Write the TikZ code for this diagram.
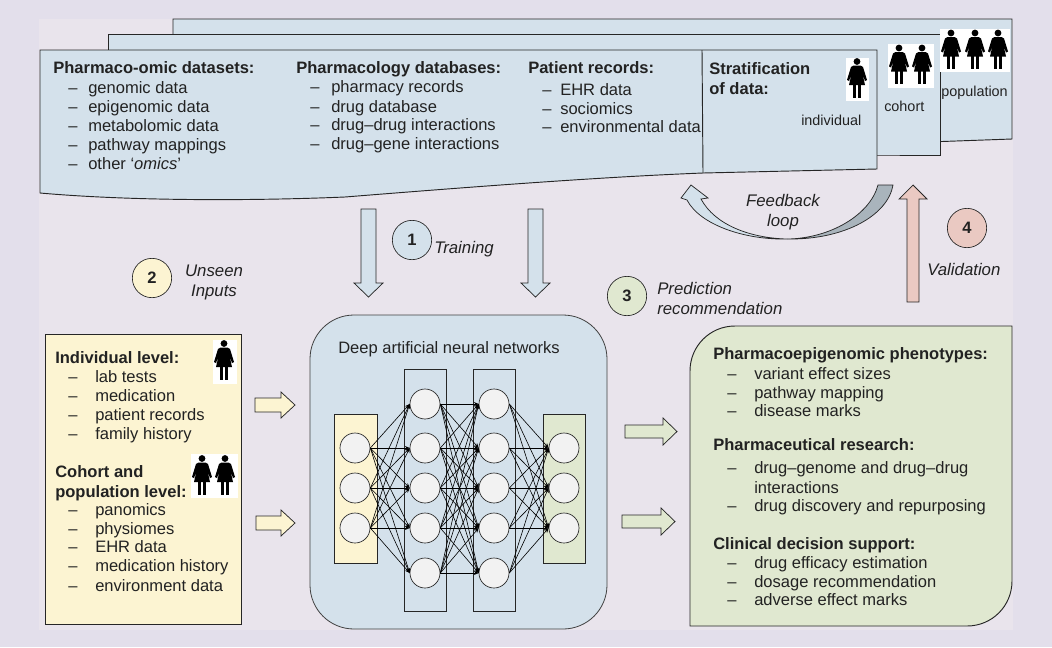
\documentclass[tikz,border=0pt]{standalone}
\usepackage{fontspec}
\setmainfont{Liberation Sans}
\usetikzlibrary{arrows.meta}
\definecolor{outerbg}{HTML}{E3DFEB}
\definecolor{innerbg}{HTML}{E9E4EC}
\definecolor{pblue}{HTML}{D4E1EB}
\definecolor{pyellow}{HTML}{FCF4D2}
\definecolor{pgreen}{HTML}{E0E8D0}
\definecolor{ppink}{HTML}{EAC9C2}
\definecolor{pgrey}{HTML}{A9B4BC}
\definecolor{pcirc}{HTML}{F2F2F2}
\definecolor{ink}{HTML}{222222}
\tikzset{
  txt/.style={anchor=base west,inner sep=0pt,text=ink,font=\fontsize{12.4}{14}\selectfont},
  hd/.style={txt,font=\fontsize{12.4}{14}\selectfont\bfseries},
  it/.style={txt,font=\fontsize{12.6}{14}\selectfont\itshape},
  itc/.style={it,anchor=base},
  small/.style={txt,font=\fontsize{10.8}{12}\selectfont},
  panel/.style={draw=black!85,line width=0.7pt},
  blockarrow/.style={draw=black!85,line width=0.55pt},
  stepnum/.style={circle,draw=black!85,line width=0.5pt,minimum size=29.5pt,inner sep=0pt,text=ink,font=\fontsize{12.4}{14}\selectfont\bfseries},
  neuron/.style={circle,draw=black!85,fill=pcirc,line width=0.5pt,minimum size=22.5pt,inner sep=0pt},
  layerbox/.style={draw=black!85,line width=0.6pt},
  synapse/.style={draw=black,line width=0.45pt,-{Stealth[length=3.6pt,width=3pt]}},
  person/.pic={
    \fill[black] (0,-16.5) circle (3.4);
    \fill[black] (-3.5,-12.5) -- (3.5,-12.5) -- (6,-11) -- (10,2) -- (8,3) -- (5.5,-4) -- (8,7) -- (-8,7) -- (-5.5,-4) -- (-8,3) -- (-10,2) -- (-6,-11) -- cycle;
    \fill[black] (-4,6) rectangle (-0.8,19.5);
    \fill[black] (0.8,6) rectangle (4,19.5);
  }
}
\newcommand{\dnarrow}[5]{% xl xr ytop yshoulder colour
  \path[blockarrow,fill=#5] (#1,#3) -- (#2,#3) -- (#2,#4) -- ({#2+7},#4) -- ({(#1+#2)/2},297) -- ({#1-7},#4) -- (#1,#4) -- cycle;}
\newcommand{\rtarrow}[7]{% x0 xs tip ytop ybot hh colour
  \path[blockarrow,fill=#7] (#1,#4) -- (#2,#4) -- (#2,{#4-#6}) -- (#3,{(#4+#5)/2}) -- (#2,{#5+#6}) -- (#2,#5) -- (#1,#5) -- cycle;}
\begin{document}
\begin{tikzpicture}[x=0.75pt,y=-0.75pt]
\useasboundingbox (0,0) rectangle (1052,647);
\fill[outerbg] (0,0) rectangle (1052,647);
\fill[innerbg] (39,19) rectangle (1013,630);

% stacked panels
\path[panel,fill=pblue] (173,19) -- (1012,19) -- (1012,139) -- (900,143) -- (173,143) -- cycle;
\path[panel,fill=pblue] (108,34) -- (940,34) -- (940,155) -- (860,155) -- (108,155) -- cycle;
\path[panel,fill=pblue] (40,50) -- (877,50) -- (877,169) -- (703,173)
  .. controls (600,177) and (470,187) .. (345,197)
  .. controls (250,201) and (130,201) .. (40,193) -- cycle;
\draw[panel] (702,50) -- (703,173);

% person pictograms, top
\fill[white] (846,58) rectangle (869,101);
\pic at (857,78) {person};
\fill[white] (888,44) rectangle (934,88);
\pic at (899,64.5) {person};
\pic at (922,64.5) {person};
\fill[white] (940,29) rectangle (1010,72);
\pic at (951,49.5) {person};
\pic at (975,49.5) {person};
\pic at (998,49.5) {person};

% top texts
\node[hd] (h1) at (53,73) {Pharmaco-omic datasets:};
\foreach \y/\t [count=\i] in {93/genomic data,112/epigenomic data,131/metabolomic data,150/pathway mappings,169/other ‘\textit{omics}’}{
  \node[txt] (t1d\i) at (68,\y) {–};
  \node[txt] (t1\i) at (88,\y) {\t};
}
\node[hd] (h2) at (296,73) {Pharmacology databases:};
\foreach \y/\t [count=\i] in {92/pharmacy records,112/drug database,130/drug–drug interactions,149/drug–gene interactions}{
  \node[txt] (t2d\i) at (310,\y) {–};
  \node[txt] (t2\i) at (331,\y) {\t};
}
\node[hd] (h3) at (528,73) {Patient records:};
\foreach \y/\t [count=\i] in {95/EHR data,114/sociomics,132/environmental data}{
  \node[txt] (t3d\i) at (542,\y) {–};
  \node[txt] (t3\i) at (560,\y) {\t};
}
\node[hd] (h4a) at (709,74) {Stratification};
\node[hd] (h4b) at (709,94) {of data:};
\node[small] (lind) at (801,125) {individual};
\node[small] (lcoh) at (884,111) {cohort};
\node[small] (lpop) at (941,96) {population};

% training arrows and steps
\dnarrow{361}{376}{209}{283}{pblue}
\dnarrow{528}{543}{209}{283}{pblue}
\node[stepnum,fill=pblue] (s1) at (412,240) {1};
\node[it] (ltrain) at (434,253) {Training};
\node[stepnum,fill=pyellow] (s2) at (152,278) {2};
\node[itc] (lu1) at (214,276) {Unseen};
\node[itc] (lu2) at (214,296) {Inputs};
\node[stepnum,fill=pgreen] (s3) at (627,296) {3};
\node[it] (lp1) at (657,294) {Prediction};
\node[it] (lp2) at (657,314) {recommendation};
\node[stepnum,fill=ppink] (s4) at (967,228) {4};
\node[it] (lval) at (927,275) {Validation};
\node[itc] (lf1) at (783,206) {Feedback};
\node[itc] (lf2) at (783,226) {loop};

% validation arrow
\path[blockarrow,fill=ppink] (907,302) -- (907,199) -- (899,199) -- (913,185) -- (927,199) -- (919,199) -- (919,302) -- cycle;

% feedback loop
\path[blockarrow,fill=pgrey] (878,185) .. controls (870,215) and (830,238.5) .. (787,239)
   .. controls (845,240) and (888,215) .. (893,185) -- cycle;
\path[blockarrow,fill=pblue] (787,239) .. controls (750,238) and (715,225) .. (701,199)
   -- (708,198) -- (691,185) -- (681,198) -- (687,200)
   .. controls (700,225) and (745,240) .. (787,239) -- cycle;

% left panel
\path[panel,fill=pyellow] (45,334) rectangle (241,624);
\fill[white] (213,340) rectangle (237,384);
\pic at (224,360) {person};
\fill[white] (191,454) rectangle (238,498);
\pic at (202,475) {person};
\pic at (225,475) {person};
\node[hd] (h5) at (55,363) {Individual level:};
\foreach \y/\t [count=\i] in {382/lab tests,401/medication,420/patient records,439/family history}{
  \node[txt] (t5d\i) at (68,\y) {–};
  \node[txt] (t5\i) at (95,\y) {\t};
}
\node[hd] (h6a) at (55,477) {Cohort and};
\node[hd] (h6b) at (55,497) {population level:};
\foreach \y/\t [count=\i] in {515/panomics,534/physiomes,552/EHR data,571/medication history,591/environment data}{
  \node[txt] (t6d\i) at (68,\y) {–};
  \node[txt] (t6\i) at (95,\y) {\t};
}
\rtarrow{255}{281}{295}{398}{412}{6}{pyellow}
\rtarrow{256}{281}{295}{516}{530}{6}{pyellow}

% network panel
\path[draw=black!75,line width=0.6pt,fill=pblue,rounded corners=33pt] (310,315) rectangle (607,629);
\node[txt] (lnet) at (338,353) {Deep artificial neural networks};
\path[layerbox,fill=pyellow] (334,414) rectangle (377,563);
\path[layerbox] (404,369) rectangle (446,611);
\path[layerbox] (473,369) rectangle (515,611);
\path[layerbox,fill=pgreen] (543,414) rectangle (585,563);
\foreach \y [count=\i] in {448,488,528}{
  \node[neuron] (a\i) at (355,\y) {};
  \node[neuron] (d\i) at (564,\y) {};
}
\foreach \y [count=\i] in {404,448,488,528,573}{
  \node[neuron] (b\i) at (425,\y) {};
  \node[neuron] (c\i) at (494,\y) {};
}
\foreach \i in {1,2,3}{\foreach \j in {1,...,5}{
  \draw[synapse] (a\i.east) -- (b\j.west);
  \draw[synapse] (c\j.east) -- (d\i.west);
}}
\foreach \i in {1,...,5}{\foreach \j in {1,...,5}{
  \draw[synapse] (b\i.east) -- (c\j.west);
}}

% right panel
\rtarrow{625}{663}{677}{425}{438}{7}{pgreen}
\rtarrow{622}{661}{675}{515}{528}{7}{pgreen}
\path[panel,fill=pgreen] (690,626) -- (690,371) .. controls (690,346) and (710,326) .. (735,326) -- (1012,326) -- (1012,581) .. controls (1012,606) and (992,626) .. (967,626) -- cycle;
\node[hd] (h7) at (713,359) {Pharmacoepigenomic phenotypes:};
\foreach \y/\t [count=\i] in {379/variant effect sizes,398/pathway mapping,416/disease marks}{
  \node[txt] (t7d\i) at (727,\y) {–};
  \node[txt] (t7\i) at (754,\y) {\t};
}
\node[hd] (h8) at (713,450) {Pharmaceutical research:};
\node[txt] (t8d1) at (727,473) {–};
\node[txt] (t81) at (754,473) {drug–genome and drug–drug};
\node[txt] (t82) at (754,493) {interactions};
\node[txt] (t8d3) at (727,511) {–};
\node[txt] (t83) at (754,511) {drug discovery and repurposing};
\node[hd] (h9) at (713,549) {Clinical decision support:};
\foreach \y/\t [count=\i] in {568/drug efficacy estimation,587/dosage recommendation,605/adverse effect marks}{
  \node[txt] (t9d\i) at (727,\y) {–};
  \node[txt] (t9\i) at (754,\y) {\t};
}
\end{tikzpicture}
\end{document}
